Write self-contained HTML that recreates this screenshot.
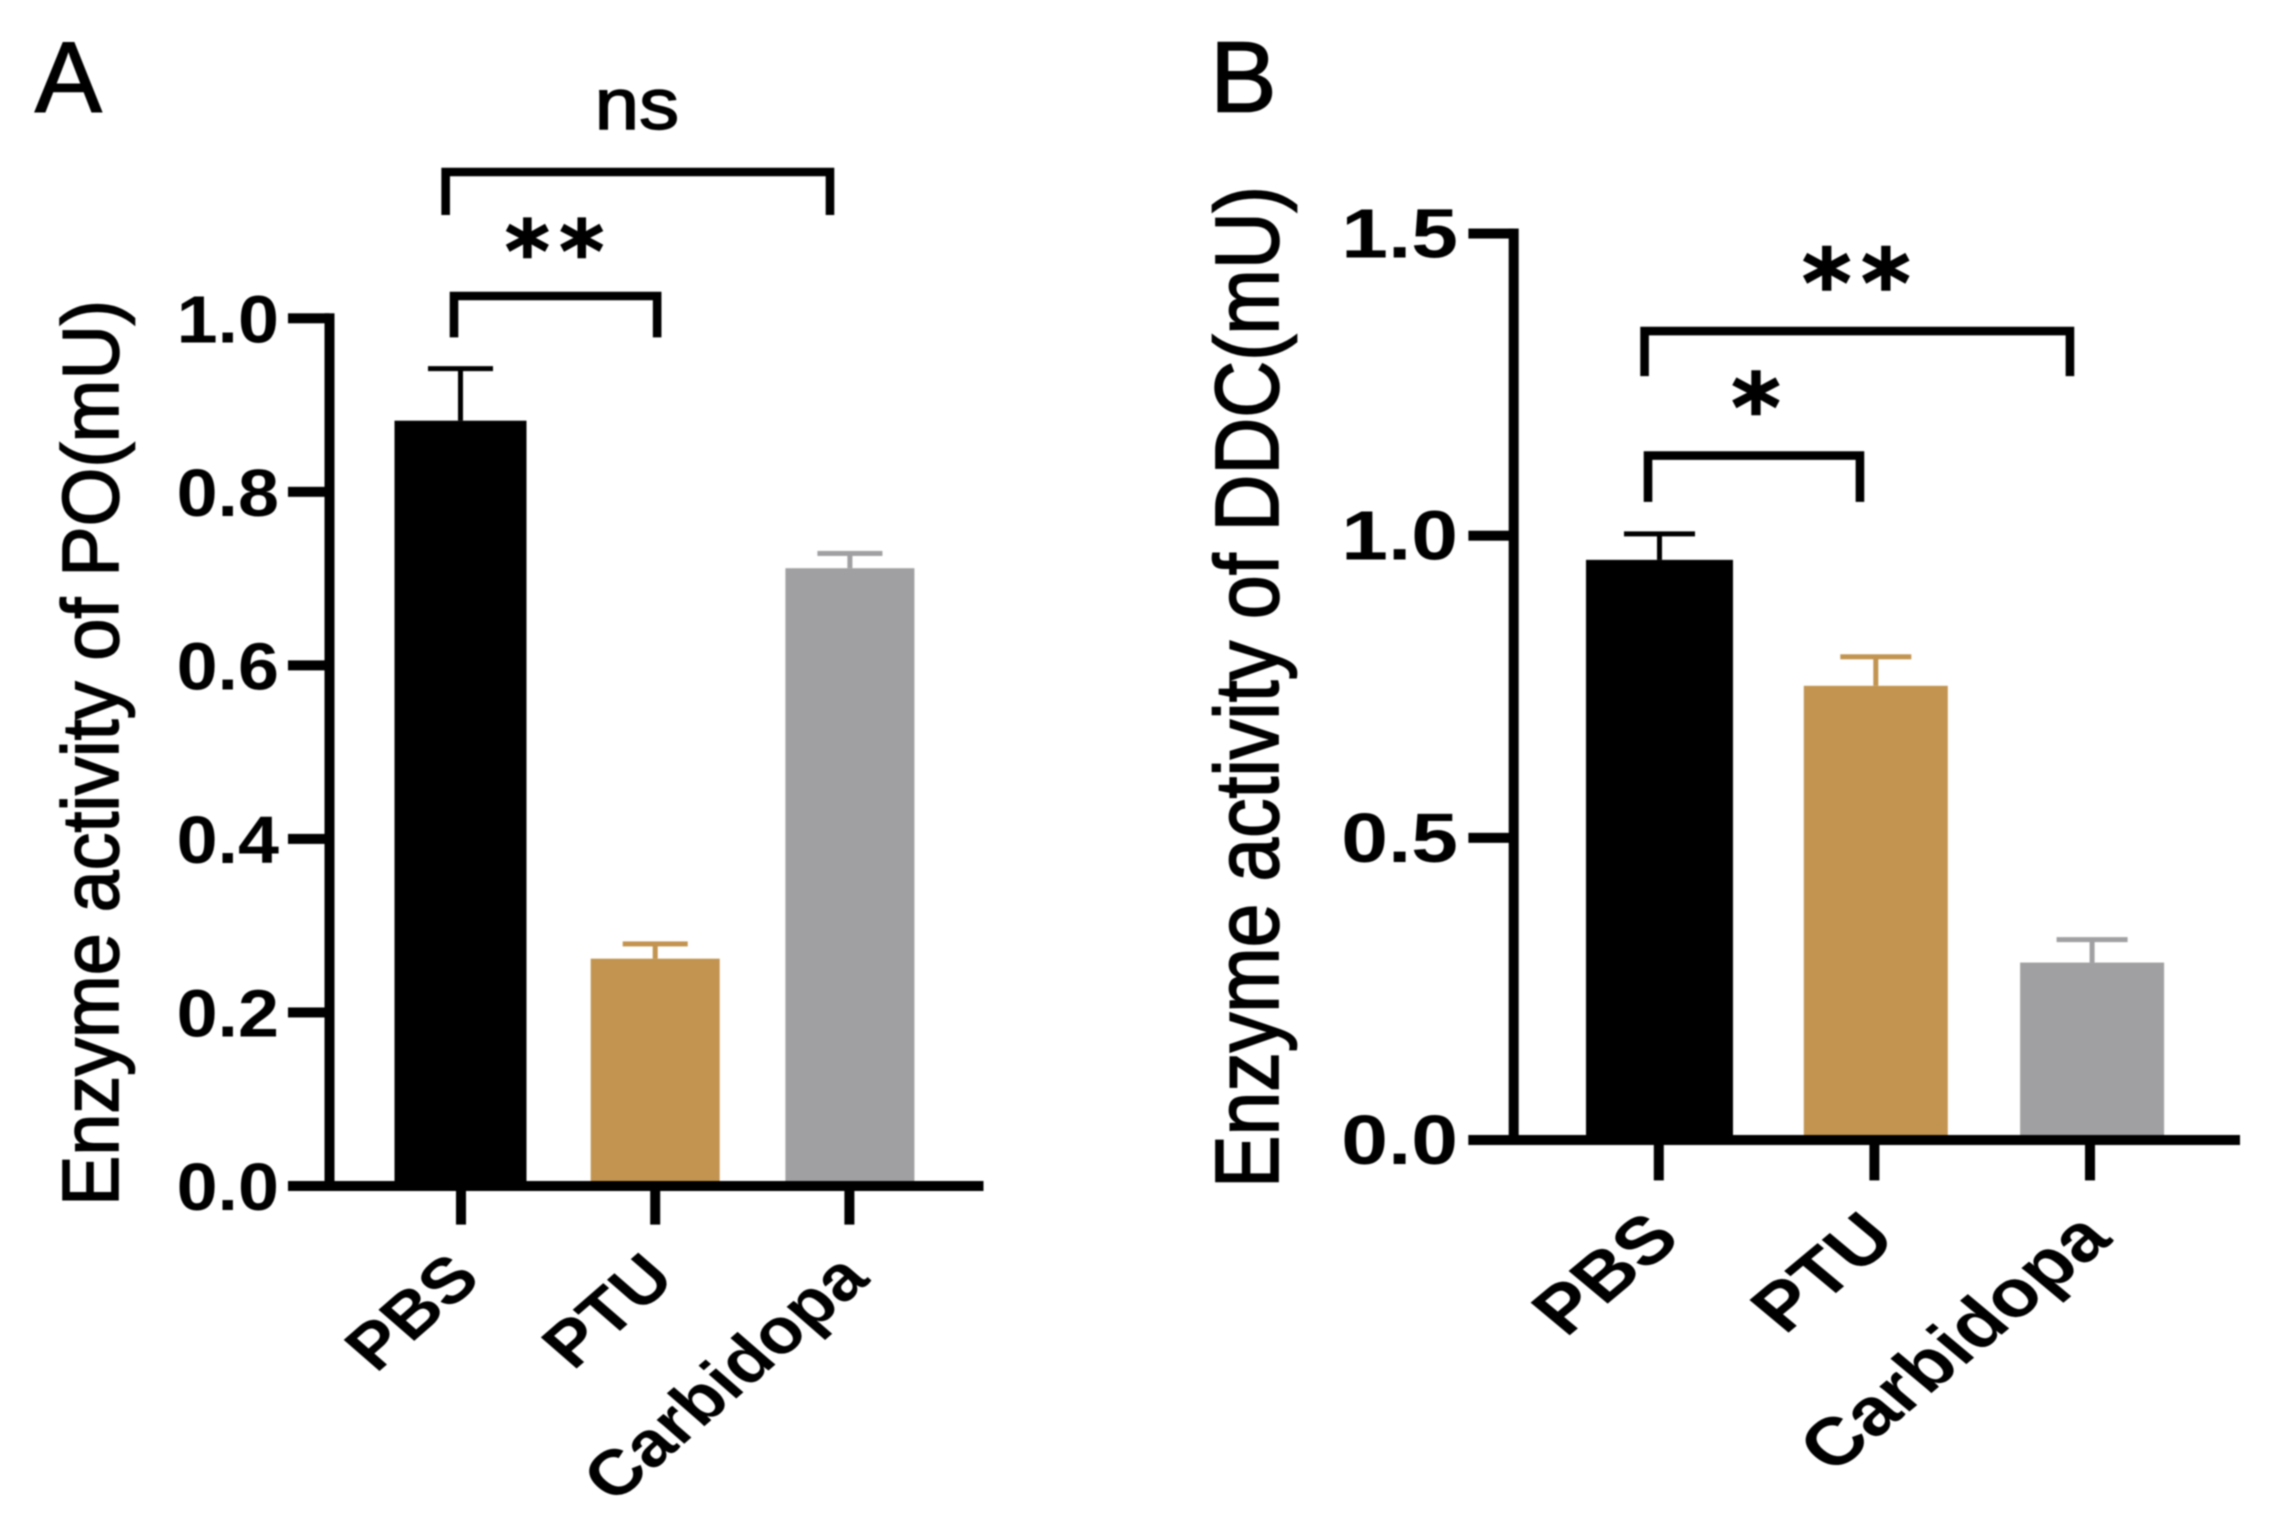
<!DOCTYPE html>
<html lang="en">
<head>
<meta charset="utf-8">
<title>Enzyme activity of PO and DDC</title>
<style>
html,body{margin:0;padding:0;background:#fff;}
svg{display:block;filter:blur(0.7px);}
text{font-family:"Liberation Sans",sans-serif;fill:#000;}
.tick{font-weight:700;}
.cat{font-weight:700;}
.heavy{stroke:#000;stroke-width:1.5px;}
.star{font-family:"DejaVu Sans",sans-serif;font-weight:700;stroke:#000;stroke-width:1.5px;}
</style>
</head>
<body>
<svg id="fig" xmlns="http://www.w3.org/2000/svg" width="2277" height="1531" viewBox="0 0 2277 1531">
  <rect x="0" y="0" width="2277" height="1531" fill="#fff"/>
  <text class="heavy" x="35" y="111.5" font-size="100">A</text>
  <text class="heavy" x="1210" y="111.5" font-size="100">B</text>
  <g id="panelA"></g>
  <g id="panelB"></g>
</svg>
<script>
// ---- data ----
const categories = ['PBS', 'PTU', 'Carbidopa'];
const barColors = ['#000000', '#c29450', '#a0a0a2'];

const poMeans = [0.882, 0.262, 0.712];
const poErrors = [0.06, 0.017, 0.017];
const poTicks = ['0.0', '0.2', '0.4', '0.6', '0.8', '1.0'];
const poBracketStart = [-0.036, -0.079];
const poBracketEnd = [1.01, 1.90];
const poBracketTop = [1.0257, 1.1686];
const poBracketBottom = [0.978, 1.119];

const ddcMeans = [0.96, 0.7516, 0.2936];
const ddcErrors = [0.043, 0.048, 0.038];
const ddcTicks = ['0.0', '0.5', '1.0', '1.5'];
const ddcBracketStart = [-0.05, -0.066];
const ddcBracketEnd = [0.933, 1.907];
const ddcBracketTop = [1.1326, 1.3387];
const ddcBracketBottom = [1.056, 1.264];

// ---- helpers ----
const NS = 'http://www.w3.org/2000/svg';
function make(parent, tag, attrs, content) {
  const el = document.createElementNS(NS, tag);
  for (const k in attrs) el.setAttribute(k, attrs[k]);
  if (content !== undefined) el.textContent = content;
  parent.appendChild(el);
  return el;
}
function rect(parent, x0, y0, x1, y1, fill) {
  return make(parent, 'rect', {x: x0, y: y0, width: x1 - x0, height: y1 - y0, fill: fill});
}

function drawPanel(o) {
  const g = document.getElementById(o.id);
  const yPos = v => o.y0 - o.yPerUnit * v;
  const xTick = i => o.xTick0 + o.xTickStep * i;
  const xBar = i => o.xBar0 + o.xBarStep * i;

  // bars and error bars
  o.means.forEach((m, i) => {
    const w = o.barW + (i === 0 ? 3 : 0);
    const c = xBar(i);
    const bar = rect(g, c - w / 2, yPos(m), c + w / 2, o.y0, barColors[i]);
    
    
    const capY = yPos(m + o.errors[i]);
    const stem = rect(g, c - 2.5, capY, c + 2.5, yPos(m), barColors[i]);
    
    
    const cap = rect(g, c - o.capW / 2, capY - 2.5, c + o.capW / 2, capY + 2.5, barColors[i]);
    
    
  });

  // axes
  const yAxis = rect(g, o.axisX - 5, yPos(o.yMax) - 5, o.axisX + 5, o.y0 + 5, '#000');
  
  
  const xAxis = rect(g, o.tickLeft, o.y0 - 5, o.axisRight, o.y0 + 5, '#000');
  
  

  // y ticks
  o.ticks.forEach(t => {
    const y = yPos(parseFloat(t));
    const tick = rect(g, o.tickLeft, y - 5, o.axisX, y + 5, '#000');
    
    
    const label = make(g, 'text', {
      class: 'tick', 'text-anchor': 'end', 'font-size': o.tickFont,
      transform: 'translate(' + o.tickRight + ',' + (y + 24) + ') scale(' + o.sx + ',1)'
    }, t);
    
    
  });

  // x ticks and rotated category labels
  categories.forEach((c, i) => {
    const x = xTick(i);
    const tick = rect(g, x - 5, o.y0 + 4, x + 5, o.tickBottom, '#000');
    
    
    const label = make(g, 'text', {
      class: 'cat', 'text-anchor': 'end', 'font-size': o.catFont,
      transform: 'translate(' + (x + o.catDx) + ',' + o.catY + ') scale(' + o.catSx + ',1) rotate(-45)'
    }, c);
    
    
  });

  // y axis title
  const title = make(g, 'text', {
    class: 'heavy',
    'font-size': o.titleFont, textLength: o.titleLen, lengthAdjust: 'spacingAndGlyphs',
    transform: 'translate(' + o.titleX + ',' + o.titleY + ') scale(' + o.titleSx + ',1) rotate(-90)'
  }, o.title);
  
  

  // significance brackets
  o.bStart.forEach((s, i) => {
    const xa = o.xTick0 + o.xTickStep * s;
    const xb = o.xTick0 + o.xTickStep * o.bEnd[i];
    const yt = yPos(o.bTop[i]);
    const yb = yPos(o.bBottom[i]);
    const path = make(g, 'path', {
      d: 'M' + xa + ' ' + yb + 'V' + yt + 'H' + xb + 'V' + yb,
      fill: 'none', stroke: '#000', 'stroke-width': 8.6
    });
    
    
    const sign = o.bLabels[i];
    const mid = (xa + xb) / 2 + o.bLabelDx[i];
    if (sign === 'ns') {
      const ns = make(g, 'text', {
        class: 'heavy', 'text-anchor': 'middle', 'font-size': 72,
        transform: 'translate(' + mid + ',' + (yt - 43) + ') scale(1.11,1)'
      }, sign);
      
      
    } else {
      const star = make(g, 'text', {
        class: 'star', 'text-anchor': 'middle', 'font-size': o.starFont, 'letter-spacing': o.starGap,
        x: mid + o.starGap / 2, y: yt + o.starDy[i]
      }, sign);
      
      
    }
  });
}

drawPanel({
  id: 'panelA', key: 'po', title: 'Enzyme activity of PO(mU)',
  means: poMeans, errors: poErrors, ticks: poTicks, yMax: 1.0,
  y0: 1186, yPerUnit: 867.7,
  xTick0: 461, xTickStep: 194.2, xBar0: 460.5, xBarStep: 194.7, barW: 129, capW: 65,
  axisX: 329.5, tickLeft: 288, axisRight: 983.5, tickRight: 279, tickBottom: 1224.6,
  sx: 1.1, tickFont: 67, catFont: 64, catSx: 1.15, catDx: 22, catY: 1281,
  titleFont: 75, titleLen: 906, titleSx: 1.06, titleX: 118, titleY: 1206,
  bStart: poBracketStart, bEnd: poBracketEnd, bTop: poBracketTop, bBottom: poBracketBottom,
  bLabels: ['**', 'ns'], bLabelDx: [-1, -1], starDy: [-15, 0], starFont: 85, starGap: 10
});

drawPanel({
  id: 'panelB', key: 'ddc', title: 'Enzyme activity of DDC(mU)',
  means: ddcMeans, errors: ddcErrors, ticks: ddcTicks, yMax: 1.5,
  y0: 1140, yPerUnit: 604.3,
  xTick0: 1658.8, xTickStep: 215.6, xBar0: 1659.5, xBarStep: 216.3, barW: 144, capW: 71,
  axisX: 1513.7, tickLeft: 1468.4, axisRight: 2240, tickRight: 1458, tickBottom: 1180.4,
  sx: 1.2, tickFont: 70, catFont: 67, catSx: 1.2, catDx: 24, catY: 1241,
  titleFont: 78, titleLen: 1002, titleSx: 1.15, titleX: 1278, titleY: 1188,
  bStart: ddcBracketStart, bEnd: ddcBracketEnd, bTop: ddcBracketTop, bBottom: ddcBracketBottom,
  bLabels: ['*', '**'], bLabelDx: [2, -1], starDy: [-15, -15], starFont: 94, starGap: 10
});
</script>
</body>
</html>
